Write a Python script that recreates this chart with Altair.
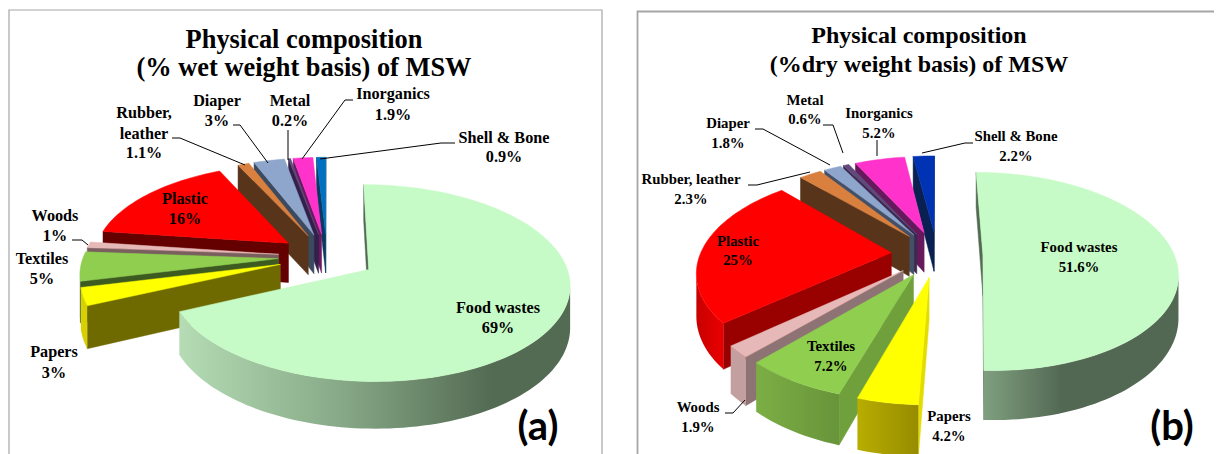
import math
import altair as alt

# ---------- data ----------
names = ["Food wastes", "Papers", "Textiles", "Woods", "Plastic",
         "Rubber, leather", "Diaper", "Metal", "Inorganics", "Shell & Bone"]
wet_values = [69, 3, 5, 1, 16, 1.1, 3, 0.2, 1.9, 0.9]
dry_values = [51.6, 4.2, 7.2, 1.9, 25, 2.3, 1.8, 0.6, 5.2, 2.2]

top_colors = ["#c6fac6", "#ffff00", "#8fce4f", "#e6b8b7", "#ff0000",
              "#d9803f", "#8ea5cc", "#604a7b", "#ff33cc", "#0070c0"]
top_colors_dry = ["#c6fac6", "#ffff00", "#8fce4f", "#e6b8b7", "#ff0000",
                  "#d9803f", "#8ea5cc", "#604a7b", "#ff33cc", "#0033b3"]
wall_colors_wet = ["#536a53", "#6f6a00", "#3d5a20", "#7a5f5f", "#640000",
                   "#57341a", "#3c4a60", "#33204a", "#6b1a5f", "#0a3a60"]
wall_colors_dry = ["#536a53", "#e4dc00", "#70a03c", "#8d7373", "#990000",
                   "#57341a", "#445068", "#3a2a50", "#661a5c", "#0a2050"]
rim_stops_wet = [
    [("#b5dcb5", 0), ("#86a886", .42), ("#536a53", .8), ("#536a53", 1)],
    [("#d8d000", 0), ("#d8d000", 1)], [("#4f7a28", 0), ("#4f7a28", 1)],
    [("#a08080", 0), ("#a08080", 1)], [("#c00000", 0), ("#c00000", 1)],
    [("#57341a", 0), ("#57341a", 1)], [("#3c4a60", 0), ("#3c4a60", 1)],
    [("#33204a", 0), ("#33204a", 1)], [("#6b1a5f", 0), ("#6b1a5f", 1)],
    [("#0a3a60", 0), ("#0a3a60", 1)],
]
rim_stops_dry = [
    [("#7f9f7f", 0), ("#536853", .4), ("#536853", 1)],
    [("#b8ad00", 0), ("#968c00", 1)], [("#7cae45", 0), ("#68943a", 1)],
    [("#c49f9f", 0), ("#c49f9f", 1)], [("#c80000", 0), ("#ea0000", 1)],
    [("#57341a", 0), ("#57341a", 1)], [("#445068", 0), ("#445068", 1)],
    [("#3a2a50", 0), ("#3a2a50", 1)], [("#661a5c", 0), ("#661a5c", 1)],
    [("#0a2050", 0), ("#0a2050", 1)],
]

wet_title = ["Physical composition", "(% wet weight basis) of MSW"]
dry_title = ["Physical composition", "(%dry weight basis) of MSW"]
wet_panel_tag = "(a)"
dry_panel_tag = "(b)"

# text, x, y of the label lines
wet_labels = [
    ("Shell & Bone", 504, 138), ("0.9%", 504, 157), ("Inorganics", 393, 94), ("1.9%", 393, 115),
    ("Metal", 290, 101), ("0.2%", 290, 121), ("Diaper", 217, 101), ("3%", 217, 121),
    ("Rubber,", 144, 113), ("leather", 144, 134), ("1.1%", 144, 153),
    ("Woods", 55, 216), ("1%", 55, 236), ("Textiles", 42, 259), ("5%", 42, 279),
    ("Plastic", 185, 199), ("16%", 185, 219), ("Papers", 54, 352), ("3%", 54, 373),
    ("Food wastes", 498, 308), ("69%", 498, 328),
]
dry_labels = [
    ("Shell & Bone", 1016, 137), ("2.2%", 1016, 157), ("Inorganics", 879, 114), ("5.2%", 879, 134),
    ("Metal", 805, 101), ("0.6%", 805, 120), ("Diaper", 728, 124), ("1.8%", 728, 144),
    ("Rubber, leather", 691, 180), ("2.3%", 691, 200), ("Plastic", 738, 242), ("25%", 738, 261),
    ("Textiles", 831, 347), ("7.2%", 831, 367), ("Woods", 698, 408), ("1.9%", 698, 428),
    ("Papers", 949, 417), ("4.2%", 949, 437), ("Food wastes", 1079, 248), ("51.6%", 1079, 268),
]
wet_leaders = [
    [(455, 143), (441, 143), (320, 159)], [(353, 100), (345, 100), (302, 159)],
    [(288, 130), (288, 160)], [(233, 125), (240, 125), (268, 163)],
    [(172, 138), (180, 138), (245, 165)], [(72, 240), (82, 240), (88, 245)],
]
dry_leaders = [
    [(973, 143), (965, 143), (922, 153)], [(877, 140), (877, 156)],
    [(823, 125), (833, 125), (843, 153)], [(755, 129), (763, 129), (830, 165)],
    [(748, 185), (757, 185), (810, 172)], [(725, 413), (733, 413), (745, 400)],
]

x_scale = alt.Scale(domain=[8, 1214], range=[0, 1206], nice=False, zero=False)
y_scale = alt.Scale(domain=[8, 454], range=[0, 446], nice=False, zero=False)
enc = dict(x=alt.X("x:Q", scale=x_scale, axis=None),
           y=alt.Y("y:Q", scale=y_scale, axis=None),
           order=alt.Order("o:Q"))


# ---------- helpers ----------
def make_panel(values, tops, walls, rims, title_lines, title_y, title_x, title_size, labels, leaders, label_size,
               tag, tag_x, frame, frame_width, cx, cy, R, Q, H, persp, explode):
    def project(X, Y, Z=0.0):
        w = 1 / (1 + persp * Y)
        return cx + R * X * w, cy - Q * Y * w + H * Z * w

    def poly(pts, fill=None, stops=None):
        rows = [{"x": a, "y": b, "o": i} for i, (a, b) in enumerate(list(pts) + [pts[0]])]
        if stops:
            grad = alt.Gradient(gradient="linear", x1=0, x2=1, y1=0, y2=0,
                                stops=[alt.GradientStop(color=c, offset=o) for c, o in stops])
            mark = alt.Chart(alt.Data(values=rows)).mark_line(fill=grad, strokeWidth=0, strokeOpacity=0)
        else:
            mark = alt.Chart(alt.Data(values=rows)).mark_line(fill=fill, stroke=fill, strokeWidth=0.5)
        return mark.encode(**enc)

    layers = []
    total = sum(values)
    start = 0.0
    spans = []
    for v in values:
        a0 = start / total * 2 * math.pi
        start += v
        a1 = start / total * 2 * math.pi
        spans.append((a0, a1))

    for i in reversed(range(len(values))):
        a0, a1 = spans[i]
        mid = (a0 + a1) / 2
        ax, ay = explode * math.sin(mid), explode * math.cos(mid)
        steps = max(3, int((a1 - a0) / 0.03))
        angs = [a0 + (a1 - a0) * k / steps for k in range(steps + 1)]
        rim3 = [(ax + math.sin(t), ay + math.cos(t)) for t in angs]
        apex_top = project(ax, ay)
        apex_bot = project(ax, ay, 1)
        rim_top = [project(*p) for p in rim3]
        rim_bot = [project(*p, 1) for p in rim3]
        mx, my = project(ax + math.sin(mid), ay + math.cos(mid))

        # straight cut faces, only where they face the viewer
        for k in (0, -1):
            px, py = rim_top[k]
            dx = px - apex_top[0]
            yline = apex_top[1] + (py - apex_top[1]) / (dx if abs(dx) > 1e-6 else 1e-6) * (mx - apex_top[0])
            if my < yline:
                layers.append(poly([apex_top, rim_top[k], rim_bot[k], apex_bot], fill=walls[i]))

        # curved outer wall where it runs right to left
        keep = [k for k in range(len(angs) - 1) if rim_top[k + 1][0] < rim_top[k][0]]
        if keep:
            k0, k1 = keep[0], keep[-1] + 1
            pts = rim_top[k0:k1 + 1] + rim_bot[k0:k1 + 1][::-1]
            layers.append(poly(pts, stops=rims[i]))

        # top face
        layers.append(poly([apex_top] + rim_top, fill=tops[i]))

    # frame
    layers.append(alt.Chart(alt.Data(values=[{"x": a, "y": b, "o": n} for n, (a, b) in enumerate(frame)]))
                  .mark_line(color="#a6a6a6", strokeWidth=frame_width).encode(**enc))
    # leader lines
    for line in leaders:
        layers.append(alt.Chart(alt.Data(values=[{"x": a, "y": b, "o": n} for n, (a, b) in enumerate(line)]))
                      .mark_line(color="#000000", strokeWidth=1).encode(**enc))

    txt = dict(x=enc["x"], y=enc["y"], text="t:N")
    layers.append(alt.Chart(alt.Data(values=[{"t": t, "x": a, "y": b} for t, a, b in labels]))
                  .mark_text(font="Liberation Serif", fontWeight="bold", fontSize=label_size,
                             color="#000000", align="center", baseline="middle").encode(**txt))
    layers.append(alt.Chart(alt.Data(values=[{"t": t, "x": title_x, "y": y} for t, y in zip(title_lines, title_y)]))
                  .mark_text(font="Liberation Serif", fontWeight="bold", fontSize=title_size,
                             color="#000000", align="center", baseline="middle").encode(**txt))
    layers.append(alt.Chart(alt.Data(values=[{"t": tag, "x": tag_x, "y": 428}]))
                  .mark_text(font="Lato", fontWeight="bold", fontSize=40,
                             color="#000000", align="center", baseline="middle").encode(**txt))
    return layers


panel_a = make_panel(wet_values, top_colors, wall_colors_wet, rim_stops_wet, wet_title, [40, 68], 304, 26.4,
                     wet_labels, wet_leaders, 16.2, wet_panel_tag, 538,
                     [(9, 454), (9, 10), (602, 10), (602, 454)], 1.2,
                     327, 256.7, 195, 93, 40, 0.135, 0.25)
panel_b = make_panel(dry_values, top_colors_dry, wall_colors_dry, rim_stops_dry, dry_title, [36, 65], 919, 24,
                     dry_labels, dry_leaders, 14.8, dry_panel_tag, 1172,
                     [(637.5, 454), (637.5, 11.5), (1214, 11.5)], 1.8,
                     937, 254, 191, 96, 41, 0.172, 0.24)

chart = (alt.layer(*panel_a, *panel_b)
         .properties(width=1206, height=446, padding=0, background="#ffffff",
                     autosize=alt.AutoSizeParams(type="none"))
         .configure_view(stroke=None))
chart.save("out.html", embed_options={"renderer": "svg", "actions": False})
